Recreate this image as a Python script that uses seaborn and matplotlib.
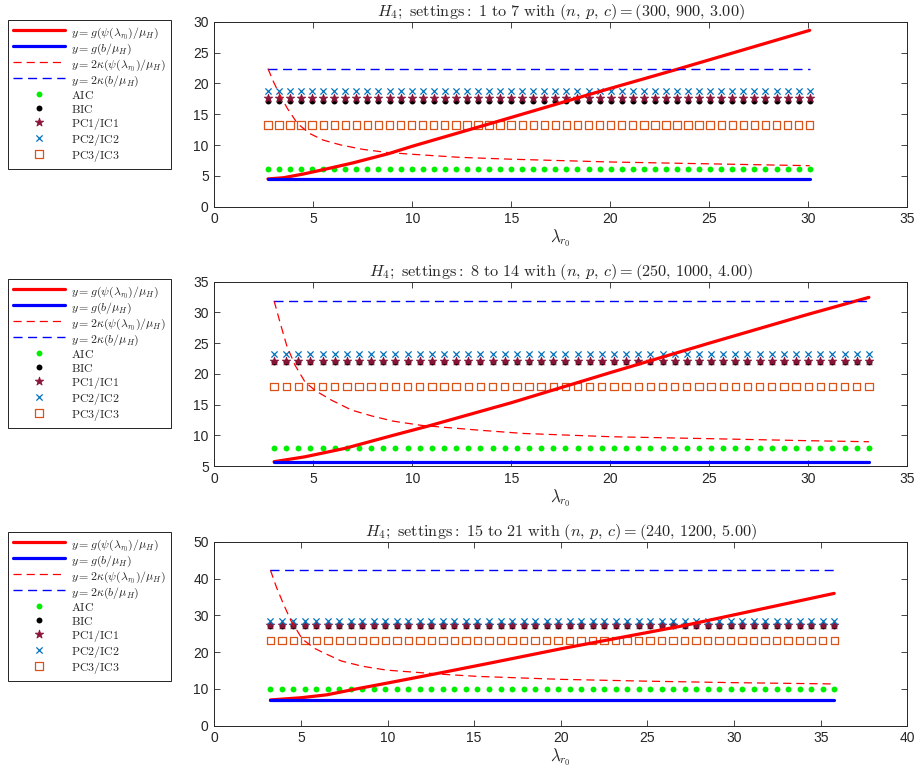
import numpy as np
import pandas as pd
import matplotlib
matplotlib.use("Agg")
import matplotlib.pyplot as plt
import seaborn as sns

# panel settings (n, p, c)
settings = ["1 to 7", "8 to 14", "15 to 21"]
npc = [r"(300,\,900,\,3.00)", r"(250,\,1000,\,4.00)", r"(240,\,1200,\,5.00)"]

# lambda grid: first and last value, 50 points each
lam_first = [2.71, 3.02, 3.24]
lam_last = [30.07, 33.06, 35.78]
n_grid = 50

# constant levels per panel
g_b = [4.5, 5.7, 6.97]
kappa_b = [22.4, 31.9, 42.3]
aic = [6.05, 7.9, 9.96]
bic = [17.15, 22.0, 27.2]
pc1 = [17.55, 22.05, 27.25]
pc2 = [18.7, 23.26, 28.5]
pc3 = [13.24, 17.95, 23.1]

# y = g(psi(lambda)/mu_H)
g_psi_x = [
    [2.71, 3.5, 4.5, 5.5, 7.0, 8.8, 10.0, 13.75, 19.26, 23.5, 30.07],
    [3.02, 4.58, 6.6, 9.04, 10.8, 15.0, 20.0, 25.0, 30.0, 33.06],
    [3.24, 5.0, 6.5, 8.2, 10.0, 13.1, 16.0, 20.0, 22.6, 27.1, 35.78],
]
g_psi_y = [
    [4.5, 4.7, 5.3, 6.0, 7.1, 8.6, 9.8, 13.3, 18.5, 22.4, 28.6],
    [5.7, 6.5, 7.87, 10.0, 11.5, 15.3, 20.2, 25.0, 29.7, 32.45],
    [7.0, 7.6, 8.4, 10.0, 11.6, 14.4, 17.1, 20.9, 23.2, 27.2, 35.96],
]

# y = 2 kappa(psi(lambda)/mu_H)
k_psi_x = [
    [2.71, 3.0, 3.3, 3.7, 4.2, 4.8, 5.5, 6.4, 7.5, 8.7, 10.0, 12.4, 15.0, 20.0, 25.0, 30.07],
    [3.02, 3.32, 3.66, 4.08, 4.58, 5.09, 5.93, 6.94, 7.95, 9.04, 10.5, 13.3, 15.6, 20.0, 25.0, 30.0, 33.06],
    [3.24, 3.6, 4.0, 4.43, 5.09, 5.8, 6.27, 7.33, 8.5, 9.96, 13.1, 15.2, 20.0, 25.0, 30.0, 35.78],
]
k_psi_y = [
    [22.4, 20.2, 18.2, 15.9, 13.5, 11.9, 10.8, 10.0, 9.3, 8.8, 8.5, 8.0, 7.7, 7.25, 6.95, 6.65],
    [31.9, 28.4, 24.6, 21.4, 18.7, 17.3, 15.7, 14.1, 13.15, 12.3, 11.6, 10.85, 10.3, 9.77, 9.45, 9.12, 8.95],
    [42.3, 37.5, 33.0, 28.5, 23.5, 21.0, 19.9, 17.6, 16.2, 15.1, 14.0, 13.4, 12.6, 12.1, 11.7, 11.35],
]

xlims = [(0, 35), (0, 35), (0, 40)]
ylims = [(0, 30), (5, 35), (0, 50)]
ysteps = [5, 5, 10]

sns.set_style("ticks")
plt.rcParams["font.family"] = ["Liberation Sans", "DejaVu Sans"]
plt.rcParams["mathtext.fontset"] = "cm"

fig = plt.figure(figsize=(9.16, 7.75), dpi=100)

# axes boxes in figure fractions
boxes = [
    [0.2339, 0.7333, 0.7566, 0.2387],
    [0.2339, 0.3987, 0.7566, 0.2378],
    [0.2339, 0.0636, 0.7566, 0.2374],
]
legend_tops = [1 - 20 / 775, 1 - 279 / 775, 1 - 532 / 775]

red = "#ff0000"
blue = "#0000ff"
dash = (0, (6.5, 4))

for i in range(3):
    ax = fig.add_axes(boxes[i])
    lam = np.linspace(lam_first[i], lam_last[i], n_grid)
    ends = [lam_first[i], lam_last[i]]

    sns.lineplot(x=g_psi_x[i], y=g_psi_y[i], ax=ax, color=red, lw=2.3,
                 sort=False, estimator=None,
                 label=r"$y = g(\psi(\lambda_{r_0})/\mu_H)$")
    sns.lineplot(x=ends, y=[g_b[i]] * 2, ax=ax, color=blue, lw=2.3,
                 sort=False, estimator=None, label=r"$y = g(b/\mu_H)$")
    sns.lineplot(x=k_psi_x[i], y=k_psi_y[i], ax=ax, color=red, lw=0.9,
                 sort=False, estimator=None, linestyle=dash,
                 label=r"$y = 2\kappa(\psi(\lambda_{r_0})/\mu_H)$")
    sns.lineplot(x=ends, y=[kappa_b[i]] * 2, ax=ax, color=blue, lw=1.0,
                 sort=False, estimator=None, linestyle=dash,
                 label=r"$y = 2\kappa(b/\mu_H)$")

    sns.scatterplot(x=lam, y=[aic[i]] * n_grid, ax=ax, color="#00ee00",
                    marker="o", s=18, linewidth=0, label=r"$\mathrm{AIC}$")
    sns.scatterplot(x=lam, y=[bic[i]] * n_grid, ax=ax, color="black",
                    marker="o", s=18, linewidth=0, label=r"$\mathrm{BIC}$")
    sns.scatterplot(x=lam, y=[pc1[i]] * n_grid, ax=ax, color="#8b1538",
                    marker="*", s=40, linewidth=0.6, edgecolor="#8b1538",
                    label=r"$\mathrm{PC1/IC1}$")
    sns.scatterplot(x=lam, y=[pc2[i]] * n_grid, ax=ax, color="#0072bd",
                    marker="x", s=20, linewidth=0.9,
                    label=r"$\mathrm{PC2/IC2}$")
    sns.scatterplot(x=lam, y=[pc3[i]] * n_grid, ax=ax, facecolor="none",
                    edgecolor="#d95319", marker="s", s=28, linewidth=0.9,
                    label=r"$\mathrm{PC3/IC3}$")

    ax.set_xlim(*xlims[i])
    ax.set_ylim(*ylims[i])
    ax.set_xticks(np.arange(xlims[i][0], xlims[i][1] + 1, 5))
    ax.set_yticks(np.arange(ylims[i][0], ylims[i][1] + 1, ysteps[i]))
    ax.tick_params(direction="in", top=True, right=True, length=4,
                   width=0.6, labelsize=10, colors="#262626", pad=4)
    for sp in ax.spines.values():
        sp.set_visible(True)
        sp.set_linewidth(0.7)
        sp.set_color("#262626")
    ax.set_xlabel(r"$\lambda_{r_0}$", fontsize=12, labelpad=1)
    ax.set_ylabel("")
    ax.set_title(r"$H_4\mathrm{;\ settings{:}\ " + settings[i].replace(" ", r"\ ")
                 + r"\ with\ }(n,\,p,\,c) = " + npc[i] + "$",
                 fontsize=11.7, pad=4)

    handles, labels = ax.get_legend_handles_labels()
    leg = ax.legend(handles, labels, loc="upper left",
                    bbox_to_anchor=(8 / 916, legend_tops[i]),
                    bbox_transform=fig.transFigure, fontsize=8.6,
                    frameon=True, fancybox=False, edgecolor="black",
                    framealpha=1, borderaxespad=0, handlelength=4.4,
                    handleheight=1.35, labelspacing=0.0, borderpad=0.4,
                    handletextpad=0.45)
    leg.get_frame().set_linewidth(0.6)

fig.savefig("out.png", dpi=100)
